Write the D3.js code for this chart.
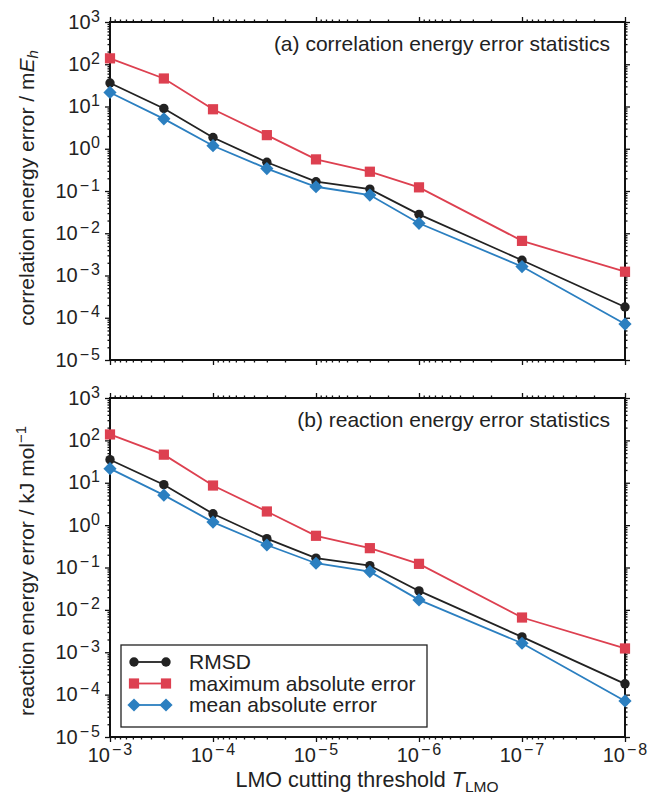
<!DOCTYPE html>
<html><head><meta charset="utf-8">
<script src="https://cdn.jsdelivr.net/npm/d3@7"></script>
<style>body{margin:0;background:#fff}svg{font-family:"Liberation Sans",Arial,sans-serif}</style>
</head><body>
<svg id="c" width="651" height="796"></svg>
<script>
const thresholds = [1e-3, 3e-4, 1e-4, 3e-5, 1e-5, 3e-6, 1e-6, 1e-7, 1e-8];
const corrRMSD = [36, 9.0, 1.85, 0.48, 0.166, 0.111, 0.028, 0.0023, 0.00018];
const corrMax  = [138, 46, 8.6, 2.1, 0.56, 0.286, 0.122, 0.0066, 0.00123];
const corrMAE  = [21.5, 5.1, 1.18, 0.34, 0.126, 0.080, 0.0172, 0.00163, 0.000071];
const reacRMSD = [35, 9.0, 1.85, 0.48, 0.166, 0.111, 0.028, 0.0023, 0.00018];
const reacMax  = [138, 46, 8.6, 2.1, 0.56, 0.286, 0.122, 0.0066, 0.00123];
const reacMAE  = [21.5, 5.1, 1.18, 0.34, 0.126, 0.080, 0.0172, 0.00163, 0.000071];
const yTickExps = [3, 2, 1, 0, -1, -2, -3, -4, -5];
const xTickExps = [-3, -4, -5, -6, -7, -8];
const seriesNames = ["RMSD", "maximum absolute error", "mean absolute error"];
const colors = ["#222222", "#dd4050", "#2b7fc0"];
const shapes = ["circle", "square", "diamond"];

const svg = d3.select("#c");
const L = 110, R = 625;
const x = d3.scaleLog().domain([1e-3, 1e-8]).range([L, R]);

function supText(sel, exp) {
  sel.append("tspan").text("10");
  if (exp < 0) {
    sel.append("tspan").attr("dx", 2).attr("dy", -7).attr("font-size", 16).text("\u2212");
    sel.append("tspan").attr("dx", 2).attr("font-size", 16).text(String(-exp));
  } else {
    sel.append("tspan").attr("dx", 0.5).attr("dy", -7).attr("font-size", 16).text(String(exp));
  }
}

function marker(g, shape, cx, cy, color) {
  if (shape === "circle") g.append("circle").attr("cx", cx).attr("cy", cy).attr("r", 4.7).attr("fill", color);
  else if (shape === "square") g.append("rect").attr("x", cx - 5.1).attr("y", cy - 5.1).attr("width", 10.2).attr("height", 10.2).attr("fill", color);
  else g.append("path").attr("d", `M${cx},${cy-6.6}L${cx+6.6},${cy}L${cx},${cy+6.6}L${cx-6.6},${cy}Z`).attr("fill", color);
}

function panel(top, bottom, data, label, ytitle, yTitleCenter, showXLabels) {
  const y = d3.scaleLog().domain([1e-5, 1e3]).range([bottom, top]);
  const g = svg.append("g");
  const minorY = [], minorX = [];
  for (let e = -5; e < 3; e++) for (let m = 2; m <= 9; m++) minorY.push(m * Math.pow(10, e));
  for (let e = -8; e < -3; e++) for (let m = 2; m <= 9; m++) minorX.push(m * Math.pow(10, e));
  const majY = yTickExps.map(e => Math.pow(10, e));
  const majX = xTickExps.map(e => Math.pow(10, e));
  const clean = s => s.select(".domain").remove();
  g.append("g").attr("transform", `translate(${L},0)`).call(d3.axisLeft(y).tickValues(majY).tickSize(5).tickFormat("")).call(clean);
  g.append("g").attr("transform", `translate(${R},0)`).call(d3.axisRight(y).tickValues(majY).tickSize(5).tickFormat("")).call(clean);
  g.append("g").attr("transform", `translate(0,${bottom})`).call(d3.axisBottom(x).tickValues(majX).tickSize(5).tickFormat("")).call(clean);
  g.append("g").attr("transform", `translate(0,${top})`).call(d3.axisTop(x).tickValues(majX).tickSize(5).tickFormat("")).call(clean);
  g.append("g").attr("transform", `translate(${L},0)`).call(d3.axisLeft(y).tickValues(minorY).tickSize(2.5).tickFormat("")).call(clean);
  g.append("g").attr("transform", `translate(${R},0)`).call(d3.axisRight(y).tickValues(minorY).tickSize(2.5).tickFormat("")).call(clean);
  g.append("g").attr("transform", `translate(0,${bottom})`).call(d3.axisBottom(x).tickValues(minorX).tickSize(2.5).tickFormat("")).call(clean);
  g.append("g").attr("transform", `translate(0,${top})`).call(d3.axisTop(x).tickValues(minorX).tickSize(2.5).tickFormat("")).call(clean);
  g.selectAll(".tick line").attr("stroke", "#111").attr("stroke-width", 1.3);
  g.append("rect").attr("x", L).attr("y", top).attr("width", R - L).attr("height", bottom - top)
    .attr("fill", "none").attr("stroke", "#111").attr("stroke-width", 2);
  yTickExps.forEach(e => {
    const t = g.append("text").attr("x", 100).attr("y", y(Math.pow(10, e)) + 6.5).attr("text-anchor", "end")
      .attr("font-size", 20).attr("fill", "#222");
    supText(t, e);
  });
  if (showXLabels) {
    xTickExps.forEach(e => {
      const t = g.append("text").attr("x", x(Math.pow(10, e))).attr("y", bottom + 25).attr("text-anchor", "middle")
        .attr("font-size", 20).attr("fill", "#222");
      supText(t, e);
    });
  }
  const yt = g.append("text").attr("transform", `translate(34,${yTitleCenter}) rotate(-90)`)
    .attr("text-anchor", "middle").attr("font-size", 21).attr("fill", "#222");
  ytitle(yt);
  g.append("text").attr("x", 610).attr("y", top + 29).attr("text-anchor", "end").attr("font-size", 21)
    .attr("fill", "#222").text(label);
  const line = d3.line().x((d, i) => x(thresholds[i])).y(d => y(d));
  data.forEach((vals, si) => {
    g.append("path").datum(vals).attr("d", line).attr("fill", "none").attr("stroke", colors[si]).attr("stroke-width", 1.8);
    vals.forEach((v, i) => marker(g, shapes[si], x(thresholds[i]), y(v), colors[si]));
  });
  return g;
}

panel(22, 360, [corrRMSD, corrMax, corrMAE], "(a) correlation energy error statistics", t => {
  t.append("tspan").text("correlation energy error / m");
  t.append("tspan").attr("font-style", "italic").text("E");
  t.append("tspan").attr("font-style", "italic").attr("font-size", 15).attr("dy", 4).text("h");
}, 188, false);
panel(398, 737, [reacRMSD, reacMax, reacMAE], "(b) reaction energy error statistics", t => {
  t.append("tspan").text("reaction energy error / kJ mol");
  t.append("tspan").attr("font-size", 15).attr("dy", -8).text("\u22121");
}, 571, true);

const xt = svg.append("text").attr("x", 367).attr("y", 787).attr("text-anchor", "middle").attr("font-size", 21.5).attr("fill", "#222");
xt.append("tspan").text("LMO cutting threshold ");
xt.append("tspan").attr("font-style", "italic").text("T");
xt.append("tspan").attr("font-size", 15.5).attr("dy", 5).text("LMO");

const lg = svg.append("g");
lg.append("rect").attr("x", 121).attr("y", 645).attr("width", 306).attr("height", 82)
  .attr("fill", "#fff").attr("stroke", "#222").attr("stroke-width", 1.3);
seriesNames.forEach((n, i) => {
  const cy = 662 + i * 21.5;
  lg.append("line").attr("x1", 134).attr("x2", 166).attr("y1", cy).attr("y2", cy).attr("stroke", colors[i]).attr("stroke-width", 1.8);
  marker(lg, shapes[i], 134, cy, colors[i]);
  marker(lg, shapes[i], 166, cy, colors[i]);
  lg.append("text").attr("x", 189).attr("y", cy + 7).attr("font-size", 21).attr("fill", "#222").text(n);
});
</script>
</body></html>
